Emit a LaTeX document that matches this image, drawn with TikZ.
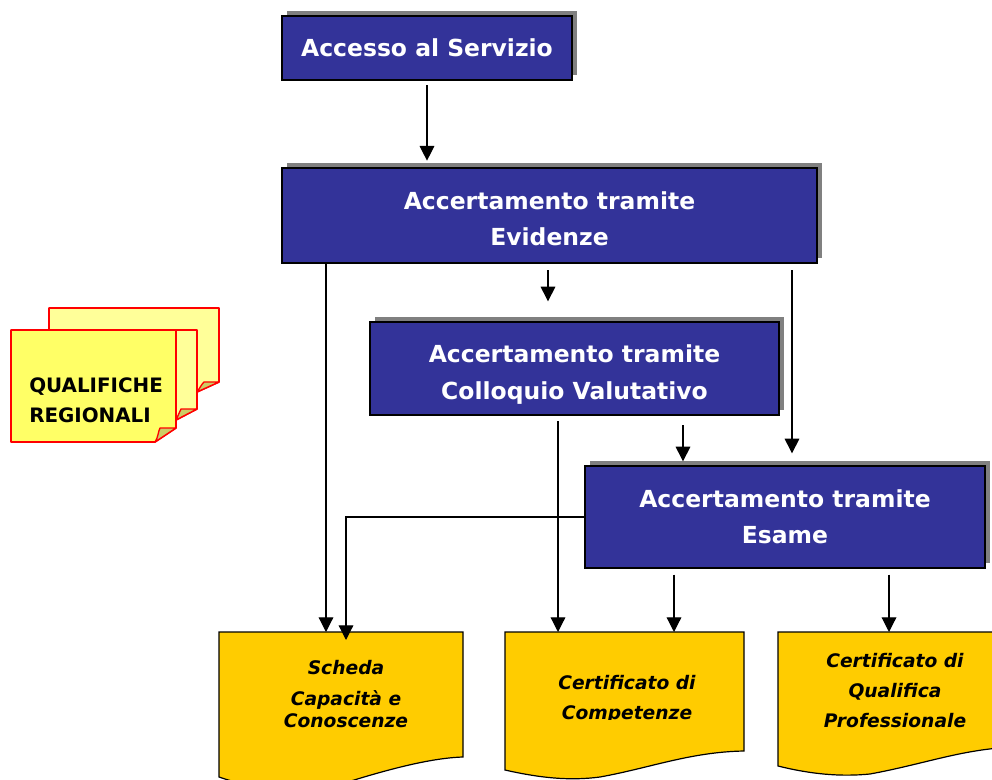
\documentclass[tikz,border=0pt]{standalone}
\usepackage{fontspec}
\setmainfont{DejaVu Sans}
\usetikzlibrary{arrows.meta}
\definecolor{navybox}{HTML}{333399}
\definecolor{shadowgray}{HTML}{808080}
\definecolor{docgold}{HTML}{FFCC00}
\definecolor{notefront}{HTML}{FFFF66}
\definecolor{noteback}{HTML}{FFFF99}
\definecolor{notefold}{HTML}{CCCC66}
\tikzset{
  x=0.75pt,y=-0.75pt,
  procbox/.style={draw=black,line width=1pt,fill=navybox,inner sep=0pt},
  proctext/.style={text=white,inner sep=0pt,align=center,
     font=\fontsize{17.6}{27.3}\selectfont\bfseries},
  procshadow/.style={fill=shadowgray},
  docshape/.style={draw=black,line width=0.9pt,fill=docgold},
  doclabel/.style={inner sep=0pt,align=center,font=\fontsize{14}{16.5}\selectfont\bfseries\itshape},
  noteshape/.style={draw=red,line width=1.3pt,line join=round},
  notefoldshape/.style={draw=red,line width=1pt,fill=notefold,line join=round},
  notelabel/.style={inner sep=0pt,align=left,font=\fontsize{14.9}{22.5}\selectfont\bfseries},
  arr/.style={draw=black,line width=0.9pt,-{Triangle[length=11pt,width=11pt]}},
  anchorbox/.style={inner sep=0pt,minimum width=0pt,minimum height=0pt},
}
\newcommand{\procnode}[7]{% name, x1,y1,x2,y2, text, text centre y
  \fill[procshadow] (#2+5,#3-5) rectangle (#4+5,#5-5);
  \node[procbox,minimum width=#4*0.75pt-#2*0.75pt,minimum height=#5*0.75pt-#3*0.75pt] (#1) at ({(#2+#4)/2},{(#3+#5)/2}) {};
  \node[proctext] (#1text) at ({(#2+#4)/2},#7) {#6};
}
\begin{document}
\begin{tikzpicture}
\useasboundingbox (0,0) rectangle (992,780);
\clip (0,0) rectangle (992,780);
\fill[white] (0,0) rectangle (992,780);

% process boxes
\procnode{acc}{282}{16}{572}{80}{Accesso al Servizio}{48}
\procnode{evi}{282}{168}{817}{263}{Accertamento tramite\\Evidenze}{218.5}
\procnode{col}{370}{322}{779}{415}{Accertamento tramite\\Colloquio Valutativo}{374.5}
\procnode{esa}{585}{466}{985}{568}{Accertamento tramite\\Esame}{516.5}

% documents
\draw[docshape] (219,632) -- (463,632) -- (463,757)
  .. controls (430,758) and (385,770) .. (335,786)
  .. controls (290,792) and (250,788) .. (219,777) -- cycle;
\draw[docshape] (505,632) -- (744,632) -- (744,751)
  .. controls (690,752) and (650,768) .. (600,777)
  .. controls (570,781) and (540,778) .. (505,770) -- cycle;
\draw[docshape] (778,632) -- (1018,632) -- (1018,747)
  .. controls (965,748) and (925,764) .. (870,774)
  .. controls (840,777) and (810,774) .. (778,766) -- cycle;
\node[anchorbox,minimum width=183pt,minimum height=1pt,anchor=north] (doca) at (341,632) {};
\node[anchorbox,minimum width=179pt,minimum height=1pt,anchor=north] (docb) at (624.5,632) {};
\node[anchorbox,minimum width=180pt,minimum height=1pt,anchor=north] (docc) at (898,632) {};

\node[doclabel] (la) at (346,694) {Scheda\\[6.5pt]Capacità e\\Conoscenze};
\begin{scope}
  \clip (505,660) rectangle (744,719);
  \node[doclabel] (lb) at (627,699) {Certificato di\\[6pt]Competenze};
\end{scope}
\node[doclabel] (lc) at (895,691) {Certificato di\\[6pt]Qualifica\\[6pt]Professionale};

% sticky notes
\path[noteshape,fill=noteback] (49,308) -- (219,308) -- (219,382) -- (197,392) -- (49,392) -- cycle;
\draw[notefoldshape] (197,392) .. controls (200,388) and (201,385) .. (204,382) -- (219,382) -- cycle;
\path[noteshape,fill=noteback] (30,330) -- (197,330) -- (197,409) -- (176,420) -- (30,420) -- cycle;
\draw[notefoldshape] (176,420) .. controls (178,416) and (179,413) .. (181,409) -- (197,409) -- cycle;
\path[noteshape,fill=notefront] (11,330) -- (176,330) -- (176,428) -- (155,442) -- (11,442) -- cycle;
\draw[notefoldshape] (155,442) .. controls (158,438) and (158,432) .. (160,428) -- (176,428) -- cycle;
\node[notelabel,anchor=west] (qual) at (29,400) {QUALIFICHE\\REGIONALI};

% connectors
\coordinate (xa) at (427,0);
\coordinate (xb) at (326,0);
\coordinate (xc) at (548,0);
\coordinate (xd) at (792,0);
\coordinate (xe) at (558,0);
\coordinate (xf) at (683,0);
\coordinate (xg) at (346,0);
\coordinate (xh) at (674,0);
\coordinate (xi) at (889,0);
\draw[arr,shorten <=3.5pt,shorten >=5pt] (xa |- acc.south) -- (xa |- evi.north);
\draw[arr] (xb |- evi.south) -- (xb |- doca.north);
\draw[arr,shorten <=5pt,shorten >=15pt] (xc |- evi.south) -- (xc |- col.north);
\draw[arr,shorten <=5pt,shorten >=9pt] (xd |- evi.south) -- (xd |- esa.north);
\draw[arr,shorten <=4pt] (xe |- col.south) -- (xe |- docb.north);
\draw[arr,shorten <=7pt,shorten >=3pt] (xf |- col.south) -- (xf |- esa.north);
\draw[arr,shorten >=-6pt] (esa.west) -- (xg |- esa.west) -- (xg |- doca.north);
\draw[arr,shorten <=4.5pt] (xh |- esa.south) -- (xh |- docb.north);
\draw[arr,shorten <=4.5pt] (xi |- esa.south) -- (xi |- docc.north);
\end{tikzpicture}
\end{document}
